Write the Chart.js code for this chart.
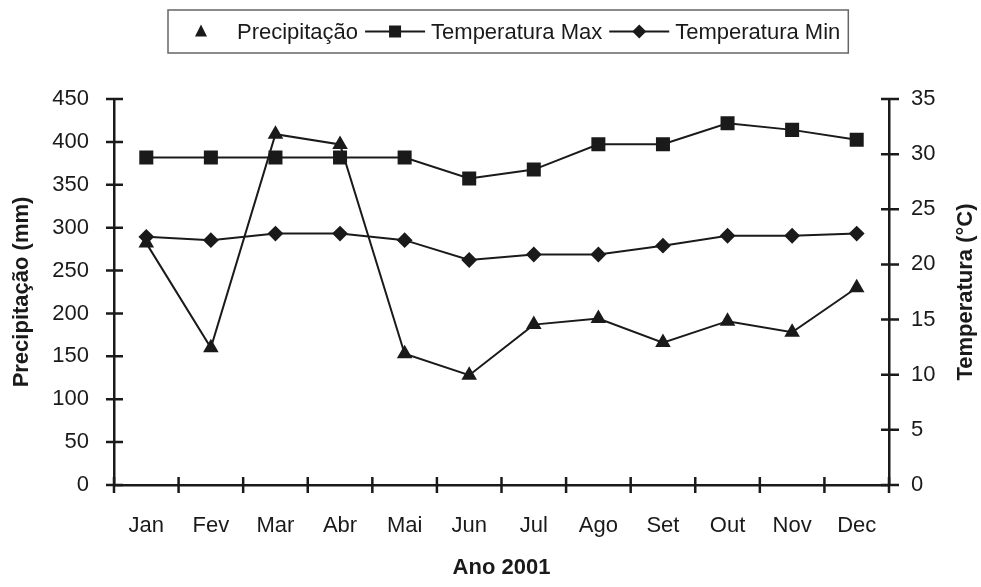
<!DOCTYPE html>
<html>
<head>
<meta charset="utf-8">
<script src="https://cdn.jsdelivr.net/npm/chart.js@4.4.1/dist/chart.umd.min.js"></script>
<style>
  html, body { margin: 0; padding: 0; background: #fff; }
  canvas { display: block; }
</style>
</head>
<body>
<canvas id="climaChart" width="981" height="587"></canvas>
<script>
const months = ['Jan', 'Fev', 'Mar', 'Abr', 'Mai', 'Jun', 'Jul', 'Ago', 'Set', 'Out', 'Nov', 'Dec'];
const precipitacao = [282, 160, 409, 397, 153, 128, 187, 194, 166, 191, 178, 230];
const tempMax = [29.7, 29.7, 29.7, 29.7, 29.7, 27.8, 28.6, 30.9, 30.9, 32.8, 32.2, 31.3];
const tempMin = [22.5, 22.2, 22.8, 22.8, 22.2, 20.4, 20.9, 20.9, 21.7, 22.6, 22.6, 22.8];

const FONT = "'Liberation Sans', Arial, sans-serif";
const INK = '#1a1a1a';

// tick marks crossing the axes + right axis title + legend box
const extras = {
  id: 'extras',
  afterDraw(chart) {
    const ctx = chart.ctx;
    const { x, y, y1 } = chart.scales;
    ctx.save();
    ctx.strokeStyle = INK;
    ctx.lineWidth = 2.5;
    ctx.beginPath();
    y.ticks.forEach(t => {
      const py = y.getPixelForValue(t.value);
      ctx.moveTo(y.right - 8, py); ctx.lineTo(y.right + 9, py);
    });
    y1.ticks.forEach(t => {
      const py = y1.getPixelForValue(t.value);
      ctx.moveTo(y1.left - 8, py); ctx.lineTo(y1.left + 10, py);
    });
    for (let i = 0; i <= months.length; i++) {
      const px = x.getPixelForValue(i - 0.5);
      ctx.moveTo(px, x.top - 8); ctx.lineTo(px, x.top + 8);
    }
    ctx.stroke();

    // right axis title, reading bottom to top
    ctx.fillStyle = INK;
    ctx.font = 'bold 22px ' + FONT;
    ctx.textAlign = 'center';
    ctx.textBaseline = 'middle';
    ctx.translate(966, (chart.chartArea.top + chart.chartArea.bottom) / 2);
    ctx.rotate(-Math.PI / 2);
    ctx.fillText('Temperatura (°C)', 0, 0);
    ctx.restore();

    drawLegend(ctx);
  }
};

function drawLegend(ctx) {
  const items = [
    { label: 'Precipitação', marker: 'triangle', line: false },
    { label: 'Temperatura Max', marker: 'square', line: true },
    { label: 'Temperatura Min', marker: 'diamond', line: true }
  ];
  const left = 168, top = 10, h = 43, cy = top + h / 2;
  ctx.save();
  ctx.font = '22px ' + FONT;
  ctx.textBaseline = 'middle';
  ctx.textAlign = 'left';
  let cx = left + 3;
  items.forEach(it => {
    const mid = cx + 30;
    ctx.strokeStyle = INK;
    ctx.fillStyle = INK;
    ctx.lineWidth = 2;
    if (it.line) {
      ctx.beginPath(); ctx.moveTo(cx, cy); ctx.lineTo(cx + 60, cy); ctx.stroke();
    }
    ctx.beginPath();
    if (it.marker === 'triangle') {
      ctx.moveTo(mid, cy - 7); ctx.lineTo(mid + 6, cy + 5); ctx.lineTo(mid - 6, cy + 5);
    } else if (it.marker === 'square') {
      ctx.rect(mid - 6, cy - 6, 12, 12);
    } else {
      ctx.moveTo(mid, cy - 7); ctx.lineTo(mid + 7, cy); ctx.lineTo(mid, cy + 7); ctx.lineTo(mid - 7, cy);
    }
    ctx.closePath();
    ctx.fill();
    const tx = cx + 66;
    ctx.fillText(it.label, tx, cy + 1);
    cx = tx + ctx.measureText(it.label).width + 7;
  });
  ctx.strokeStyle = '#666';
  ctx.lineWidth = 1.5;
  ctx.strokeRect(left, top, cx - left + 1, h);
  ctx.restore();
}

const ctx = document.getElementById('climaChart').getContext('2d');

new Chart(ctx, {
  type: 'line',
  data: {
    labels: months,
    datasets: [
      {
        label: 'Precipitação',
        data: precipitacao,
        yAxisID: 'y',
        borderColor: INK,
        backgroundColor: INK,
        borderWidth: 2,
        pointStyle: 'triangle',
        pointRadius: 7,
        tension: 0
      },
      {
        label: 'Temperatura Max',
        data: tempMax,
        yAxisID: 'y1',
        borderColor: INK,
        backgroundColor: INK,
        borderWidth: 2,
        pointStyle: 'rect',
        pointRadius: 8.5,
        tension: 0
      },
      {
        label: 'Temperatura Min',
        data: tempMin,
        yAxisID: 'y1',
        borderColor: INK,
        backgroundColor: INK,
        borderWidth: 2,
        pointStyle: 'rectRot',
        pointRadius: 6.5,
        tension: 0
      }
    ]
  },
  options: {
    responsive: false,
    animation: false,
    layout: { padding: { top: 99, left: 0, right: 0, bottom: 0 } },
    plugins: {
      legend: { display: false },
      tooltip: { enabled: false }
    },
    scales: {
      x: {
        offset: true,
        grid: { display: false, drawTicks: false },
        border: { color: INK, width: 2.5 },
        ticks: { color: INK, padding: 28, font: { family: FONT, size: 22 } },
        title: {
          display: true, text: 'Ano 2001', color: INK,
          font: { family: FONT, size: 22, weight: 'bold' },
          padding: { top: 0, bottom: 6 }
        },
        afterFit(s) { s.height = 102; }
      },
      y: {
        position: 'left',
        min: 0, max: 450,
        ticks: { stepSize: 50, color: INK, padding: 25, font: { family: FONT, size: 22 } },
        grid: { display: false, drawTicks: false },
        border: { color: INK, width: 2.5 },
        title: {
          display: true, text: 'Precipitação (mm)', color: INK,
          font: { family: FONT, size: 22, weight: 'bold' },
          padding: { top: 9, bottom: 0 }
        },
        afterFit(s) { s.width = 114; }
      },
      y1: {
        position: 'right',
        min: 0, max: 35,
        ticks: { stepSize: 5, color: INK, padding: 22, font: { family: FONT, size: 22 } },
        grid: { display: false, drawTicks: false },
        border: { color: INK, width: 2.5 },
        afterFit(s) { s.width = 92; }
      }
    }
  },
  plugins: [extras]
});
</script>
</body>
</html>
